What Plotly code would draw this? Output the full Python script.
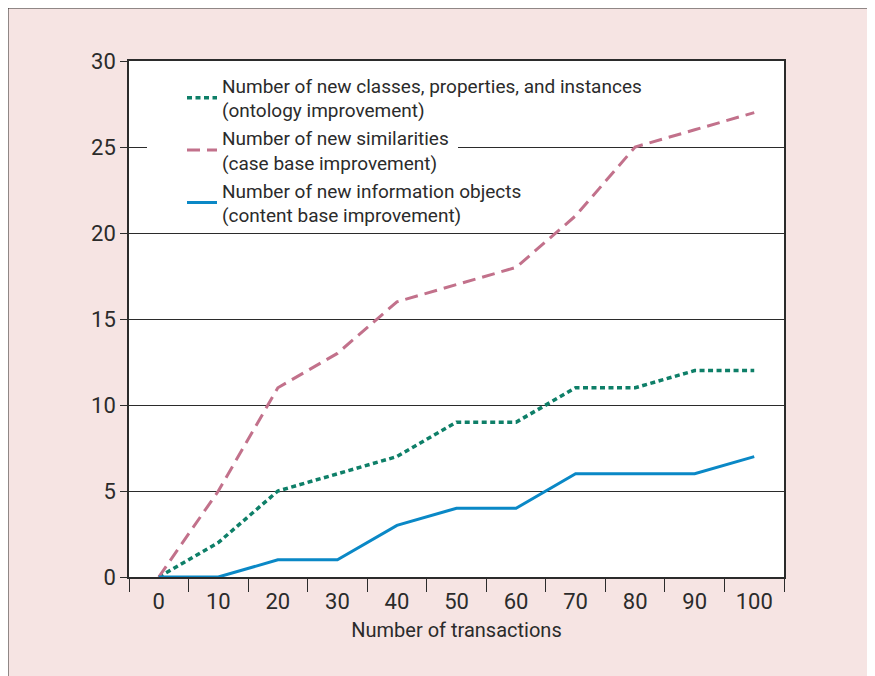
import plotly.graph_objects as go

transactions = [0, 10, 20, 30, 40, 50, 60, 70, 80, 90, 100]
ontology = [0, 2, 5, 6, 7, 9, 9, 11, 11, 12, 12]
case_base = [0, 5, 11, 13, 16, 17, 18, 21, 25, 26, 27]
content_base = [0, 0, 1, 1, 3, 4, 4, 6, 6, 6, 7]

names = [
    "Number of new classes, properties, and instances<br>(ontology improvement)",
    "Number of new similarities<br>(case base improvement)",
    "Number of new information objects<br>(content base improvement)",
]

FONT = "Roboto, Liberation Sans, sans-serif"
DARK = "#2b2b2b"
PINK_BG = "#f6e4e3"

fig = go.Figure()
fig.add_trace(go.Scatter(x=transactions, y=ontology, mode="lines", name=names[0],
                         legendgroup="a",
                         line=dict(color="#0e7f68", width=3.5, dash="5px,3.5px")))
fig.add_trace(go.Scatter(x=transactions, y=case_base, mode="lines", name=names[1],
                         legendgroup="b",
                         line=dict(color="#c2718b", width=3, dash="13px,7px")))
fig.add_trace(go.Scatter(x=transactions, y=content_base, mode="lines", name=names[2],
                         legendgroup="c",
                         line=dict(color="#0a88c6", width=3)))

# figure is placed at an 8px body offset in the page
W, H = 864, 668
L, R, T, B = 121, 776, 53, 569
pw, ph = R - L, B - T


def px(xp):
    return (xp - L) / pw


def py(yp):
    return (B - yp) / ph


shapes = [
    # panel border
    dict(type="rect", xref="paper", yref="paper", x0=px(0), x1=px(863), y0=py(700), y1=py(0),
         fillcolor="rgba(0,0,0,0)", line=dict(color=DARK, width=1), layer="below"),
    # legend text background hiding part of the 25 gridline
    dict(type="rect", xref="paper", yref="y", x0=px(139), x1=px(450), y0=24.7, y1=25.3,
         fillcolor="white", line=dict(width=0), layer="above"),
]

fig.update_layout(
    width=W, height=H,
    margin=dict(l=L, r=W - R, t=T, b=H - B, autoexpand=False),
    paper_bgcolor=PINK_BG,
    plot_bgcolor="white",
    font=dict(family=FONT, size=20, color=DARK),
    showlegend=True,
    legend=dict(
        x=px(174), y=py(58.5), xanchor="left", yanchor="top",
        bgcolor="rgba(0,0,0,0)", borderwidth=0,
        font=dict(family=FONT, size=19, color=DARK),
        tracegroupgap=0, itemwidth=30,
    ),
    shapes=shapes,
    xaxis=dict(
        range=[-5, 105], tickvals=transactions, ticktext=[str(v) for v in transactions],
        ticks="", ticklabelstandoff=4, automargin=False,
        tickfont=dict(size=22),
        minor=dict(tick0=-5, dtick=10, ticks="outside", ticklen=13, tickcolor=DARK,
                   tickwidth=1, showgrid=False),
        showline=True, linecolor=DARK, linewidth=1.5, mirror=True,
        showgrid=False, zeroline=False,
        title=dict(text="Number of transactions", font=dict(size=20), standoff=10),
    ),
    yaxis=dict(
        range=[0, 30], tickvals=[0, 5, 10, 15, 20, 25, 30], automargin=False,
        ticks="outside", ticklen=7, tickcolor=DARK, tickwidth=1,
        tickfont=dict(size=22),
        showline=True, linecolor=DARK, linewidth=1.5, mirror=True,
        showgrid=True, gridcolor=DARK, gridwidth=1, zeroline=False,
    ),
)

fig.write_html("out.html")
